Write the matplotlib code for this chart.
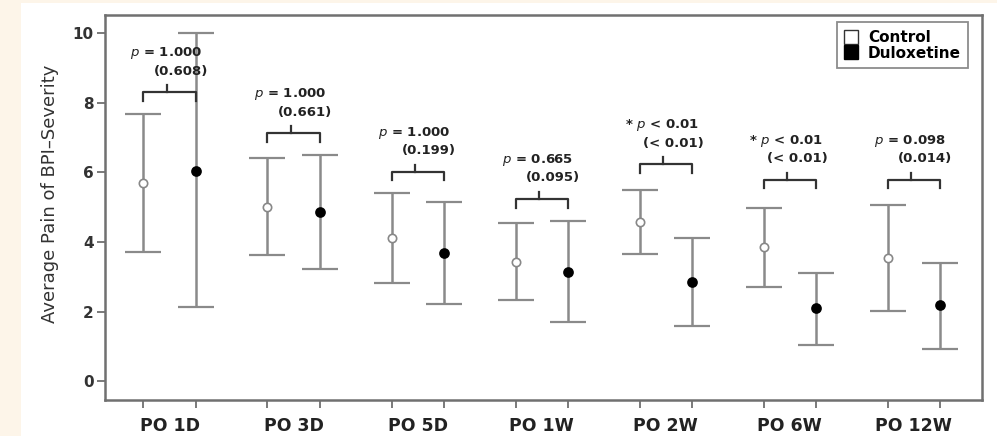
import numpy as np
import matplotlib.pyplot as plt
from matplotlib.patches import Rectangle
from matplotlib.lines import Line2D

plt.rcParams['font.family'] = ['DejaVu Sans']

# categories and data (mean, upper, lower)
periods = ["PO 1D", "PO 3D", "PO 5D", "PO 1W", "PO 2W", "PO 6W", "PO 12W"]

ctrl_mean = [5.70, 5.01, 4.11, 3.43, 4.58, 3.86, 3.55]
ctrl_hi = [7.68, 6.40, 5.41, 4.55, 5.48, 4.99, 5.07]
ctrl_lo = [3.72, 3.62, 2.82, 2.33, 3.65, 2.72, 2.03]

dulo_mean = [6.05, 4.87, 3.69, 3.13, 2.85, 2.09, 2.18]
dulo_hi = [10.0, 6.51, 5.16, 4.60, 4.10, 3.10, 3.41]
dulo_lo = [2.14, 3.21, 2.23, 1.71, 1.58, 1.04, 0.93]

p_main = ["$\\it{p}$ = 1.000", "$\\it{p}$ = 1.000", "$\\it{p}$ = 1.000", "$\\it{p}$ = 0.665",
          "* $\\it{p}$ < 0.01", "* $\\it{p}$ < 0.01", "$\\it{p}$ = 0.098"]
p_sub = ["(0.608)", "(0.661)", "(0.199)", "(0.095)", "(< 0.01)", "(< 0.01)", "(0.014)"]
bracket_y = [8.31, 7.13, 6.02, 5.24, 6.24, 5.79, 5.79]

W, H = 997, 436
fig = plt.figure(figsize=(W / 100, H / 100), dpi=100, facecolor="#fdf5e9")
fig.patches.append(Rectangle((21 / W, 0), 1 - 21 / W, 1 - 3 / H, transform=fig.transFigure,
                             facecolor="white", edgecolor="none", zorder=-10))
ax = fig.add_axes([105 / W, 1 - 400 / H, (982 - 105) / W, (400 - 15) / H])
ax.set_facecolor("white")

x = np.arange(len(periods))
off = 0.21
xc = x - off
xd = x + off

ecol = "#8a8a8a"
for xs, m, hi, lo, face, edge in [(xc, ctrl_mean, ctrl_hi, ctrl_lo, "white", "#888888"),
                                   (xd, dulo_mean, dulo_hi, dulo_lo, "black", "black")]:
    m = np.array(m)
    yerr = [m - np.array(lo), np.array(hi) - m]
    ax.errorbar(xs, m, yerr=yerr, fmt="none", ecolor=ecol, elinewidth=1.8,
                capsize=13, capthick=1.6, zorder=2)
    ax.plot(xs, m, "o", ms=6 if face == "white" else 6.5, mfc=face, mec=edge, mew=1.2, zorder=3)

# brackets with p-values
bcol = "#333333"
for i in range(len(periods)):
    yb = bracket_y[i]
    ax.plot([xc[i], xc[i], xd[i], xd[i]], [yb - 0.25, yb, yb, yb - 0.25],
            color=bcol, lw=1.6, solid_joinstyle="round")
    ax.plot([x[i] - 0.02, x[i] - 0.02], [yb, yb + 0.2], color=bcol, lw=1.6)
    ax.text(x[i] - 0.03, yb + 1.12, p_main[i], ha="center", va="center",
            fontsize=9.5, fontweight="bold", color="#222222")
    ax.text(xd[i] + 0.1, yb + 0.6, p_sub[i], ha="right", va="center",
            fontsize=9.5, fontweight="bold", color="#222222")

ax.set_xlim(-0.52, 6.55)
ax.set_ylim(-0.54, 10.52)
ax.set_yticks([0, 2, 4, 6, 8, 10])
ax.set_yticklabels(["0", "2", "4", "6", "8", "10"], fontsize=11, fontweight="bold", color="#333333")
ax.set_xticks(np.sort(np.concatenate([xc, xd])))
ax.set_xticklabels([])
ax.set_xticks(x, minor=True)
ax.set_xticklabels(periods, minor=True, fontsize=12.5, fontweight="bold", color="#222222")
ax.tick_params(axis="x", which="minor", length=0, pad=12)
ax.tick_params(axis="both", which="major", length=6, width=1.3, color="#707070")
ax.tick_params(axis="y", pad=2)
ax.set_ylabel("Average Pain of BPI\u2013Severity", fontsize=13, color="#333333")
ax.yaxis.set_label_coords(-0.052, 0.535)

for s in ax.spines.values():
    s.set_color("#707070")
    s.set_linewidth(1.8)

handles = [Line2D([], [], ls="none", marker="s", ms=10, mfc="white", mec="#333333", mew=1),
           Line2D([], [], ls="none", marker="s", ms=10, mfc="black", mec="black")]
leg = ax.legend(handles, ["Control", "Duloxetine"], loc="upper right", bbox_to_anchor=(0.9845, 0.981),
                prop={"weight": "bold", "size": 11}, frameon=True, fancybox=False,
                handlelength=0.8, handletextpad=0.7, borderpad=0.5, labelspacing=0.05,
                borderaxespad=0.0)
leg.get_frame().set_edgecolor("#707070")
leg.get_frame().set_linewidth(1.3)

fig.savefig("out.png", dpi=100, facecolor=fig.get_facecolor())
